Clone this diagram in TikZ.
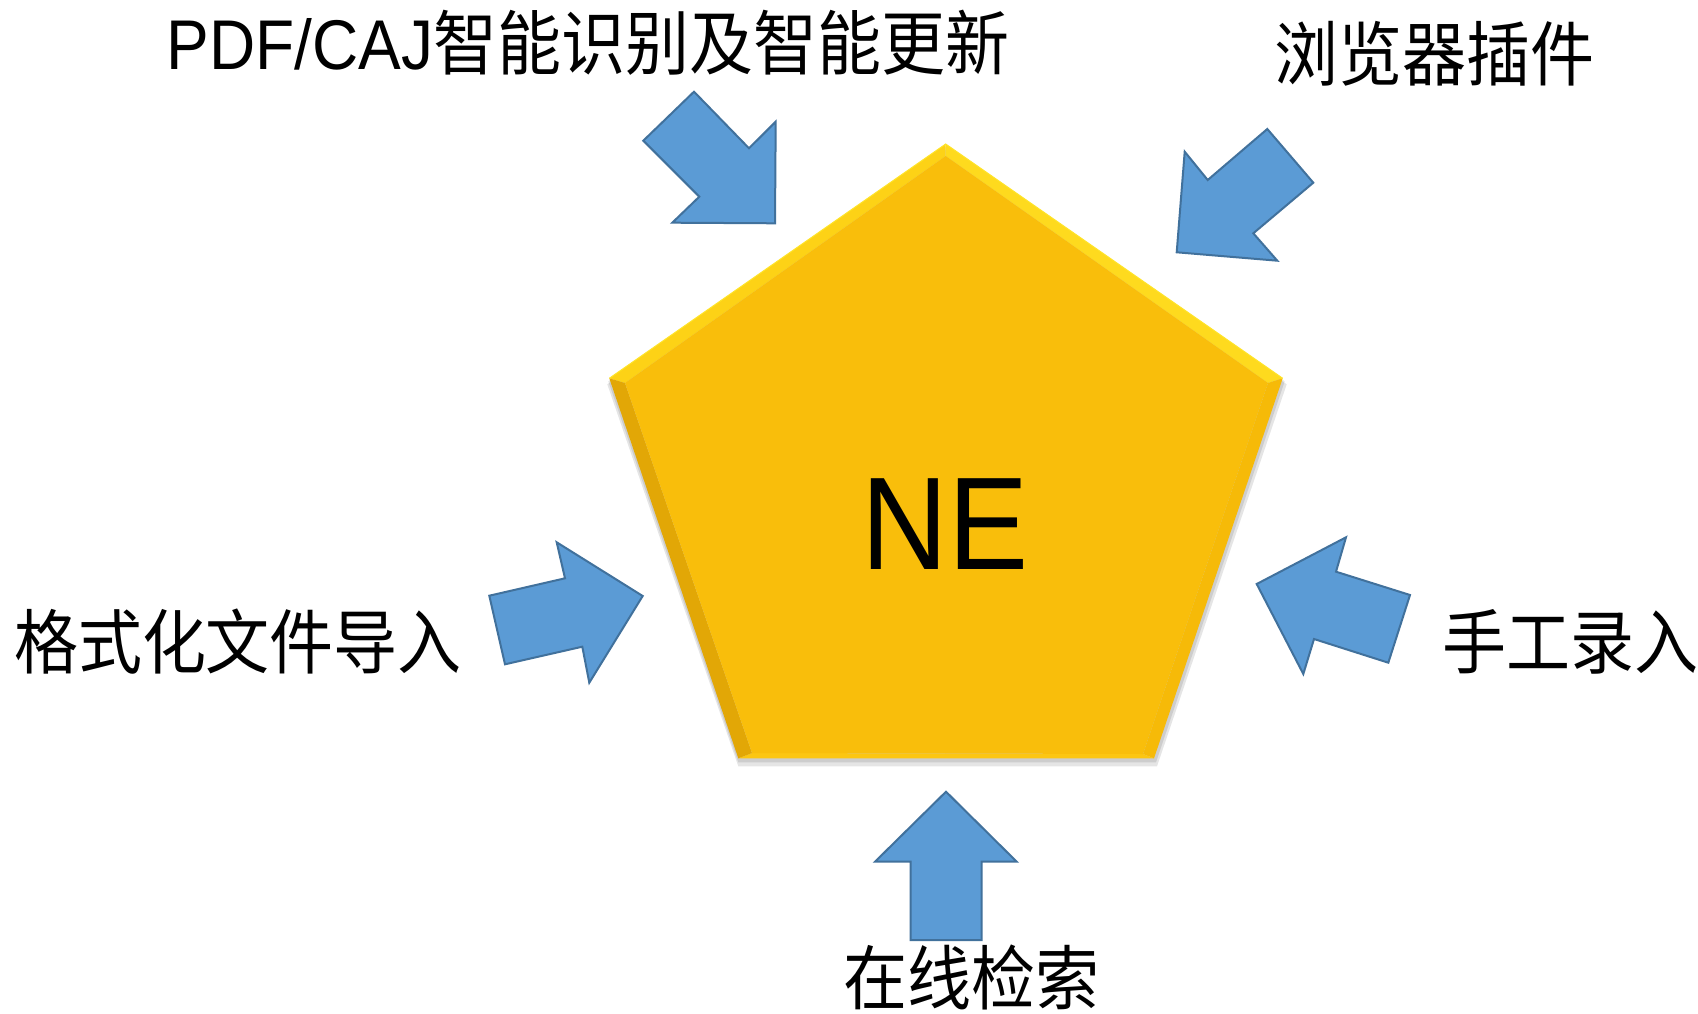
\documentclass[tikz,border=0pt]{standalone}
\usepackage{fontspec}
\setmainfont{Liberation Sans}
\newfontfamily\cjk{Noto Sans CJK SC}
\begin{document}
\begin{tikzpicture}[x=1pt,y=-1pt,
  blockarrow/.style={fill=arrowblue,draw=arrowedge,line width=2pt,line join=miter},
  label/.style={inner sep=0pt,font=\fontsize{64}{64}\selectfont,text=black},
]
\definecolor{arrowblue}{HTML}{5B9BD5}
\definecolor{arrowedge}{HTML}{41719C}
\definecolor{gold}{HTML}{F9BE0B}
\useasboundingbox[fill=white] (0,0) rectangle (1698,1014);
% pentagon outer vertices
\coordinate (T) at (945.7,144);
\coordinate (UL) at (609.3,378.3);
\coordinate (UR) at (1282.7,378.3);
\coordinate (LL) at (738.3,758.3);
\coordinate (LR) at (1154,758.3);
% inner vertices
\coordinate (Ti) at (945.7,156);
\coordinate (ULi) at (625,383);
\coordinate (URi) at (1268,383);
\coordinate (LLi) at (752,753);
\coordinate (LRi) at (1143,754);
% shadow
\fill[black,opacity=0.10] ([shift={(0,6)}]T) -- ([shift={(-2,6)}]UL) -- ([shift={(0,8)}]LL) -- ([shift={(3,8)}]LR) -- ([shift={(4,6)}]UR) -- cycle;
\fill[black,opacity=0.10] ([shift={(0,3)}]T) -- ([shift={(-1,3)}]UL) -- ([shift={(0,4)}]LL) -- ([shift={(2,4)}]LR) -- ([shift={(2,3)}]UR) -- cycle;
% bevels
\fill[color={rgb,255:red,253;green,210;blue,22}] (T) -- (UL) -- (ULi) -- (Ti) -- cycle;
\fill[color={rgb,255:red,254;green,218;blue,30}] (T) -- (UR) -- (URi) -- (Ti) -- cycle;
\fill[color={rgb,255:red,246;green,186;blue,8}] (UR) -- (LR) -- (LRi) -- (URi) -- cycle;
\fill[color={rgb,255:red,252;green,198;blue,18}] (LR) -- (LL) -- (LLi) -- (LRi) -- cycle;
\fill[color={rgb,255:red,226;green,167;blue,6}] (LL) -- (UL) -- (ULi) -- (LLi) -- cycle;
\fill[gold] (Ti) -- (ULi) -- (LLi) -- (LRi) -- (URi) -- cycle;
\draw[color={rgb,255:red,255;green,228;blue,40},line width=1pt] (UL) -- (T) -- (UR);
\node[inner sep=0pt,font=\fontsize{120}{120}\selectfont] (ne) at (945,524) {\scalebox{1}[1.1]{NE}};
% arrows
\draw[blockarrow] (694,91.7) -- (749,148.3) -- (775.7,121.7) -- (775,223.3) -- (672.3,222.7) -- (699.3,196.7) -- (643.3,140.7) -- cycle;
\draw[blockarrow] (1267.3,129) -- (1207.7,180) -- (1184.7,151.7) -- (1176.7,252.3) -- (1277.3,260.7) -- (1253.3,233.3) -- (1313.3,182.7) -- cycle;
\draw[blockarrow] (489.3,595.7) -- (565,578.3) -- (556.7,542.3) -- (642.7,596) -- (589.3,682.7) -- (582.3,646.7) -- (505,664.3) -- cycle;
\draw[blockarrow] (1410,595) -- (1336,571.7) -- (1346,537.3) -- (1256.7,584) -- (1303.3,674) -- (1314,639) -- (1388.3,662.7) -- cycle;
\draw[blockarrow] (910.7,940) -- (910.7,861.7) -- (875,861.7) -- (946,791.7) -- (1016.7,861.7) -- (981.7,861.7) -- (981.7,940) -- cycle;
% labels
\node[label] (t1) at (588,43) {\scalebox{1}[1.1]{PDF/CAJ{\cjk 智能识别及智能更新}}};
\node[label] (t2) at (1434,54) {\scalebox{1}[1.1]{\cjk 浏览器插件}};
\node[label] (t3) at (238,642) {\scalebox{1}[1.1]{\cjk 格式化文件导入}};
\node[label] (t4) at (1570,642) {\scalebox{1}[1.1]{\cjk 手工录入}};
\node[label] (t5) at (971,977) {\scalebox{1}[1.1]{\cjk 在线检索}};
\end{tikzpicture}
\end{document}
